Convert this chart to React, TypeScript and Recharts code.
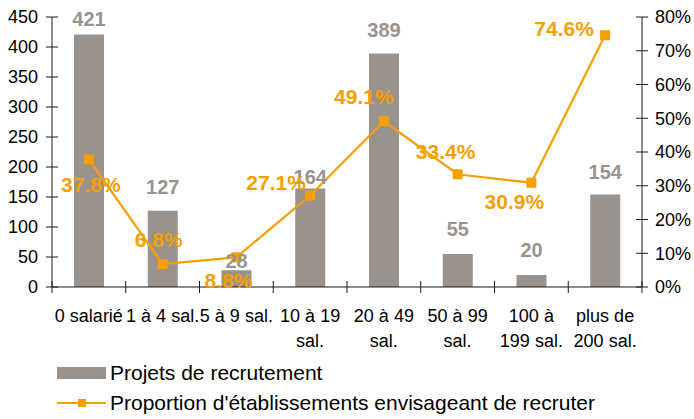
import React from "react";
import {
  ComposedChart,
  Bar,
  Line,
  XAxis,
  YAxis,
  LabelList,
  Legend,
  Text,
} from "recharts";

const CATEGORIES = [
  "0 salarié",
  "1 à 4 sal.",
  "5 à 9 sal.",
  "10 à 19 sal.",
  "20 à 49 sal.",
  "50 à 99 sal.",
  "100 à 199\u00a0sal.",
  "plus de 200\u00a0sal.",
];
const PROJETS = [421, 127, 28, 164, 389, 55, 20, 154];
const PROPORTION = [37.8, 6.8, 8.8, 27.1, 49.1, 33.4, 30.9, 74.6];
const LEFT_TICKS = [0, 50, 100, 150, 200, 250, 300, 350, 400, 450];
const RIGHT_TICKS = [0, 10, 20, 30, 40, 50, 60, 70, 80];

const BAR_NAME = "Projets de recrutement";
const LINE_NAME = "Proportion d'établissements envisageant de recruter";

// label placement (gap above bar top, offset of line labels from their point)
const BAR_LABEL_GAP = [15, 24, 9, 12, 24, 25, 25, 23];
const LINE_LABEL_SHIFT = [
  [2, 25],
  [-4, -24],
  [-8, 23],
  [-34, -13],
  [-20, -25],
  [-12, -23],
  [-17, 19],
  [-41, -7],
];

const BAR_COLOR = "#9a928c";
const ORANGE = "#f5a000";
const AXIS = "#1a1a1a";
const FONT = "'Liberation Sans', Arial, sans-serif";

const W = 694;
const H = 419;
const AXIS_W = 52;
const BAND = (W - 2 * AXIS_W) / CATEGORIES.length;

const data = CATEGORIES.map((name, i) => ({
  name,
  projets: PROJETS[i],
  proportion: PROPORTION[i],
}));

const LeftTick = ({ x, y, payload }: any) => (
  <g>
    <line x1={x - 6} x2={x + 6} y1={y} y2={y} stroke={AXIS} />
    <text x={x - 14} y={y} dy="0.35em" textAnchor="end" fontSize={18} fontFamily={FONT} fill="#000">
      {payload.value}
    </text>
  </g>
);

const RightTick = ({ x, y, payload }: any) => (
  <g>
    <line x1={x - 6} x2={x + 6} y1={y} y2={y} stroke={AXIS} />
    <text x={x + 13} y={y} dy="0.35em" textAnchor="start" fontSize={18} fontFamily={FONT} fill="#000">
      {payload.value}%
    </text>
  </g>
);

const XTick = ({ x, y, payload, index }: any) => (
  <g>
    <line x1={x - BAND / 2} x2={x - BAND / 2} y1={y - 6} y2={y + 6} stroke={AXIS} />
    {index === CATEGORIES.length - 1 && (
      <line x1={x + BAND / 2} x2={x + BAND / 2} y1={y - 6} y2={y + 6} stroke={AXIS} />
    )}
    <Text
      x={x}
      y={y + 22}
      width={76}
      textAnchor="middle"
      verticalAnchor="start"
      lineHeight={25}
      fontSize={18}
      fontFamily={FONT}
      fill="#000"
      style={{ fontSize: 18, fontFamily: FONT }}
    >
      {payload.value}
    </Text>
  </g>
);

const BarLabel = ({ x, y, width, value, index }: any) => (
  <text
    x={x + width / 2}
    y={y - BAR_LABEL_GAP[index]}
    dy="0.35em"
    textAnchor="middle"
    fontSize={20}
    fontWeight="bold"
    fontFamily={FONT}
    fill={BAR_COLOR}
  >
    {value}
  </text>
);

const LineLabel = ({ x, y, value, index }: any) => (
  <text
    x={x + LINE_LABEL_SHIFT[index][0]}
    y={y + LINE_LABEL_SHIFT[index][1]}
    dy="0.35em"
    textAnchor="middle"
    fontSize={21}
    fontWeight="bold"
    fontFamily={FONT}
    fill={ORANGE}
  >
    {value.toFixed(1)}%
  </text>
);

const SquareDot = ({ cx, cy, index }: any) => (
  <rect key={`dot-${index}`} x={cx - 5} y={cy - 5} width={10} height={10} fill={ORANGE} />
);

const LegendBox = () => (
  <div style={{ height: 61, paddingLeft: 57, fontFamily: FONT, fontSize: 21, color: "#000" }}>
    <div style={{ height: 30, display: "flex", alignItems: "center" }}>
      <span style={{ display: "inline-block", width: 49, height: 12, background: BAR_COLOR, marginRight: 4 }} />
      {BAR_NAME}
    </div>
    <div style={{ height: 30, display: "flex", alignItems: "center" }}>
      <svg width={49} height={12} style={{ marginRight: 4 }}>
        <line x1={0} x2={49} y1={6} y2={6} stroke={ORANGE} strokeWidth={2} />
        <rect x={21} y={2} width={8} height={8} fill={ORANGE} />
      </svg>
      {LINE_NAME}
    </div>
  </div>
);

export default function App() {
  return (
    <div style={{ position: "absolute", top: 0, left: 0, background: "#fff" }}>
      <ComposedChart
        width={W}
        height={H}
        data={data}
        margin={{ top: 17, right: 0, bottom: 0, left: 0 }}
      >
        <XAxis
          dataKey="name"
          height={71}
          stroke={AXIS}
          tickSize={0}
          tickMargin={0}
          tickLine={false}
          interval={0}
          tick={<XTick />}
        />
        <YAxis
          yAxisId="left"
          width={AXIS_W}
          domain={[0, 450]}
          ticks={LEFT_TICKS}
          stroke={AXIS}
          tickSize={0}
          tickMargin={0}
          tickLine={false}
          tick={<LeftTick />}
        />
        <YAxis
          yAxisId="right"
          orientation="right"
          width={AXIS_W}
          domain={[0, 80]}
          ticks={RIGHT_TICKS}
          stroke={AXIS}
          tickSize={0}
          tickMargin={0}
          tickLine={false}
          tick={<RightTick />}
        />
        <Legend verticalAlign="bottom" align="left" layout="horizontal" content={<LegendBox />} />
        <Bar
          yAxisId="left"
          dataKey="projets"
          name={BAR_NAME}
          fill={BAR_COLOR}
          barSize={30}
          isAnimationActive={false}
        >
          <LabelList dataKey="projets" content={<BarLabel />} />
        </Bar>
        <Line
          yAxisId="right"
          dataKey="proportion"
          name={LINE_NAME}
          stroke={ORANGE}
          strokeWidth={2.25}
          dot={<SquareDot />}
          activeDot={false}
          isAnimationActive={false}
        >
          <LabelList dataKey="proportion" content={<LineLabel />} />
        </Line>
      </ComposedChart>
    </div>
  );
}
